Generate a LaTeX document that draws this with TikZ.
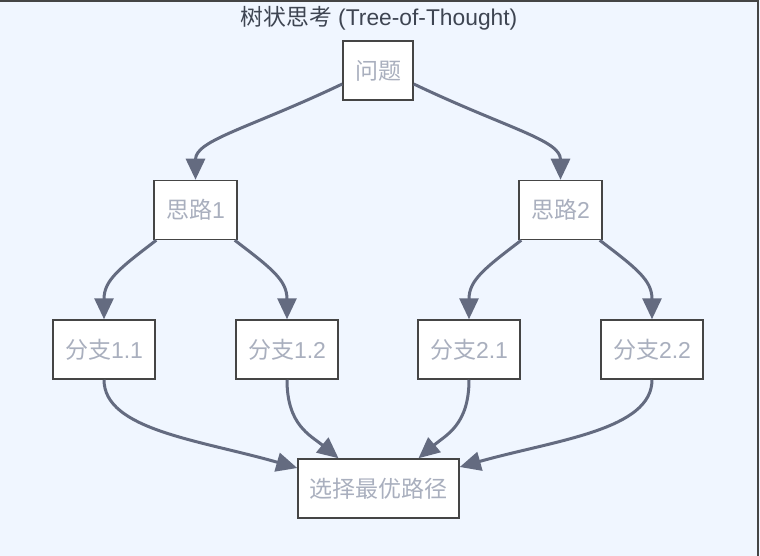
\documentclass[tikz,border=0pt]{standalone}
\usepackage{fontspec}
\setmainfont{Liberation Sans}
\newfontfamily\cjk{Noto Sans CJK SC}
\usetikzlibrary{arrows.meta}
\definecolor{bgc}{HTML}{F0F6FF}
\definecolor{edgec}{HTML}{646B80}
\definecolor{boxline}{HTML}{454545}
\definecolor{txtc}{HTML}{A9AFBE}
\definecolor{titlec}{HTML}{3E4552}
\begin{document}
\begin{tikzpicture}[x=1pt,y=-1pt,
  box/.style={draw=boxline, line width=1.5pt, fill=white, inner sep=0pt,
    minimum height=59pt, text=txtc, font=\fontsize{23}{27}\selectfont},
  edge/.style={draw=edgec, line width=3pt,
    -{Triangle[length=21pt,width=19pt]}}]
\useasboundingbox (0,0) rectangle (760,556);
\fill[bgc] (0,0) rectangle (760,556);
\draw[boxline, line width=2pt] (0,1) -- (758,1) -- (758,556);

\node[text=titlec, font=\fontsize{22.8}{26}\selectfont] (title) at (379,18) {{\cjk 树状思考} (Tree-of-Thought)};

\node[box, minimum width=70pt] (q) at (378,70.5) {{\cjk 问题}};
\node[box, minimum width=83pt] (t1) at (195.5,210) {{\cjk 思路}1};
\node[box, minimum width=83pt] (t2) at (560.5,210) {{\cjk 思路}2};
\node[box, minimum width=102pt] (b11) at (104,349.5) {{\cjk 分支}1.1};
\node[box, minimum width=102pt] (b12) at (287,349.5) {{\cjk 分支}1.2};
\node[box, minimum width=102pt] (b21) at (469,349.5) {{\cjk 分支}2.1};
\node[box, minimum width=102pt] (b22) at (652,349.5) {{\cjk 分支}2.2};
\node[box, minimum width=161pt] (s) at (378.5,488.5) {{\cjk 选择最优路径}};

\draw[edge] ([yshift=-13.5pt]q.west) .. controls (250,128) and (195.5,140) .. (t1.north);
\draw[edge] ([yshift=-13.5pt]q.east) .. controls (506,128) and (560.5,140) .. (t2.north);

\draw[edge] ([xshift=3pt]t1.south west) .. controls (120,268) and (104,280) .. (b11.north);
\draw[edge] ([xshift=-3pt]t1.south east) .. controls (271,268) and (287,280) .. (b12.north);
\draw[edge] ([xshift=3pt]t2.south west) .. controls (485,268) and (469,280) .. (b21.north);
\draw[edge] ([xshift=-3pt]t2.south east) .. controls (636,268) and (652,280) .. (b22.north);

\draw[edge] (b11.south) .. controls (104,430) and (200,440) .. ([yshift=20.5pt]s.west);
\draw[edge] (b12.south) .. controls (287,425) and (310,435) .. ([xshift=-40pt]s.north);
\draw[edge] (b21.south) .. controls (469,425) and (446,435) .. ([xshift=40pt]s.north);
\draw[edge] (b22.south) .. controls (652,430) and (556,440) .. ([yshift=21.5pt]s.east);
\end{tikzpicture}
\end{document}
